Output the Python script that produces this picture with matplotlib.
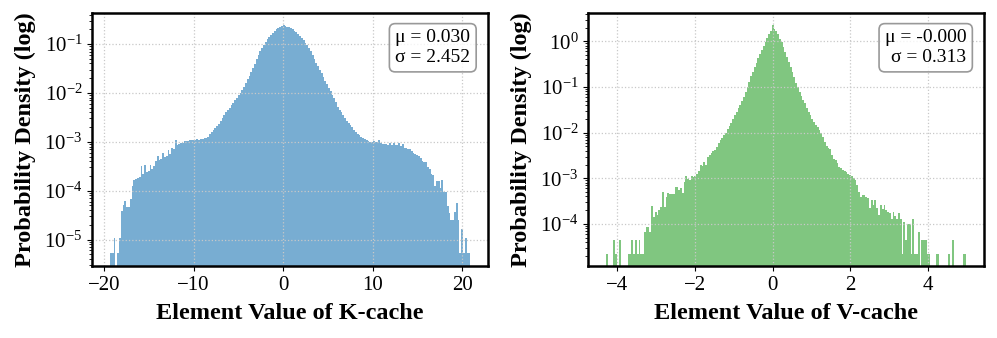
import numpy as np
import matplotlib
matplotlib.use('agg')
import matplotlib.pyplot as plt

# log10 of the probability density per bin (nan = empty bin), 200 bins each
k_range = (-19.34, 20.86)
k_log_density = [
    -5.27, -5.27, -4.97, np.nan, -5.27, -4.97, -4.42, -4.29, -4.22, -4.33,
    -4.33, -4.16, -3.90, -3.78, -3.76, -3.74, -3.72, -3.50, -3.66, -3.47,
    -3.62, -3.60, -3.48, -3.55, -3.50, -3.40, -3.29, -3.38, -3.36, -3.23,
    -3.31, -3.29, -3.17, -3.24, -3.13, -3.14, -2.96, -3.06, -3.04, -3.03,
    -3.02, -2.99, -2.99, -2.98, -2.97, -2.96, -2.97, -2.96, -2.95, -2.96,
    -2.95, -2.94, -2.93, -2.92, -2.91, -2.84, -2.80, -2.76, -2.72, -2.68,
    -2.64, -2.58, -2.52, -2.46, -2.40, -2.35, -2.30, -2.25, -2.20, -2.15,
    -2.10, -2.05, -2.00, -1.94, -1.88, -1.80, -1.72, -1.65, -1.58, -1.49,
    -1.40, -1.31, -1.22, -1.15, -1.08, -1.02, -0.96, -0.90, -0.85, -0.81,
    -0.77, -0.73, -0.70, -0.67, -0.65, -0.63, -0.61, -0.63, -0.65, -0.66,
    -0.68, -0.70, -0.73, -0.76, -0.80, -0.84, -0.88, -0.92, -0.97, -1.02,
    -1.08, -1.15, -1.22, -1.30, -1.38, -1.45, -1.53, -1.60, -1.67, -1.75,
    -1.82, -1.90, -1.97, -2.04, -2.10, -2.19, -2.28, -2.34, -2.40, -2.46,
    -2.52, -2.57, -2.62, -2.66, -2.70, -2.76, -2.80, -2.85, -2.87, -2.90,
    -2.93, -2.95, -2.97, -2.99, -3.00, -3.00, -2.98, -3.01, -3.00, -2.96,
    -3.02, -3.04, -3.05, -3.04, -3.06, -3.03, -3.06, -3.03, -3.07, -3.06,
    -3.03, -3.08, -3.05, -3.12, -3.12, -3.14, -3.15, -3.18, -3.22, -3.25,
    -3.27, -3.30, -3.33, -3.40, -3.42, -3.42, -3.52, -3.55, -3.65, -3.68,
    -3.90, -3.80, -3.80, -3.95, -3.78, -4.03, -4.03, -4.32, -4.45, -4.60,
    -4.60, -4.43, -4.26, -4.60, -5.27, -4.79, -5.27, -4.97, -5.27, -5.27,
]
k_stats = ('0.030', '2.452')

v_range = (-4.278, 4.985)
v_log_density = [
    -4.65, np.nan, np.nan, np.nan, -4.34, -4.65, np.nan, -4.34, np.nan, np.nan,
    np.nan, np.nan, -4.65, -4.65, -4.34, -4.65, -4.34, -4.65, -4.34, -4.65,
    -4.65, -4.17, -4.06, -4.06, -4.17, -3.61, -3.84, -3.73, -3.80, -3.70,
    -3.63, -3.30, -3.63, -3.40, -3.33, -3.34, -3.34, -3.34, -3.19, -3.19,
    -3.25, -3.22, -3.32, -3.08, -2.95, -3.02, -3.03, -2.95, -2.98, -2.96,
    -2.91, -2.85, -2.71, -2.73, -2.64, -2.71, -2.53, -2.50, -2.44, -2.41,
    -2.37, -2.32, -2.23, -2.17, -2.12, -2.06, -2.00, -1.93, -1.85, -1.78,
    -1.70, -1.62, -1.55, -1.47, -1.39, -1.31, -1.22, -1.10, -0.99, -0.88,
    -0.77, -0.67, -0.57, -0.47, -0.37, -0.28, -0.19, -0.10, -0.01, 0.07,
    0.15, 0.23, 0.36, 0.28, 0.22, 0.17, 0.06, -0.01, -0.12, -0.23,
    -0.34, -0.45, -0.56, -0.67, -0.78, -0.91, -1.01, -1.11, -1.20, -1.29,
    -1.36, -1.47, -1.55, -1.62, -1.70, -1.77, -1.84, -1.88, -1.95, -2.00,
    -2.09, -2.20, -2.30, -2.33, -2.36, -2.50, -2.57, -2.60, -2.66, -2.75,
    -2.78, -2.82, -2.85, -2.86, -2.90, -2.93, -2.96, -3.00, -3.04, -3.15,
    -3.30, -3.41, -3.36, -3.37, -3.40, -3.44, -3.64, -3.47, -3.59, -3.47,
    -3.65, -3.81, -3.59, -3.68, -3.59, -3.70, -3.74, -3.77, -3.88, -3.74,
    -3.82, -3.88, -3.77, -3.88, -4.65, -3.95, -4.35, -4.00, -4.00, -4.65,
    -3.88, -4.65, -4.65, -4.17, np.nan, -4.35, -4.35, -4.35, -4.65, -4.65,
    np.nan, np.nan, np.nan, -4.65, -4.65, np.nan, np.nan, np.nan, np.nan, np.nan,
    -4.65, np.nan, -4.35, np.nan, np.nan, np.nan, np.nan, np.nan, -4.65, -4.65,
]
v_stats = ('-0.000', '0.313')

plt.rcParams['font.family'] = ['Liberation Serif', 'DejaVu Serif']
plt.rcParams['mathtext.fontset'] = 'stix'

fig, axes = plt.subplots(1, 2, figsize=(9.97, 3.38), dpi=100)
fig.subplots_adjust(left=0.0923, right=0.9873, top=0.9615, bottom=0.213, wspace=0.2525)

panels = [
    (axes[0], k_range, k_log_density, k_stats, 'C0', 'Element Value of K-cache', (10**-5.54, 10**-0.367)),
    (axes[1], v_range, v_log_density, v_stats, 'C2', 'Element Value of V-cache', (10**-4.92, 10**0.62)),
]

for ax, rng, logd, stats, color, xlabel, ylim in panels:
    logd = np.array(logd, dtype=float)
    edges = np.linspace(rng[0], rng[1], len(logd) + 1)
    centers = (edges[:-1] + edges[1:]) / 2
    dens = np.where(np.isnan(logd), 0.0, 10 ** np.nan_to_num(logd))
    ax.hist(centers, bins=edges, weights=dens, color=color, alpha=0.6, log=True)
    ax.set_ylim(*ylim)
    ax.grid(True, linestyle=':', color='#c8c8c8', linewidth=0.9)
    for sp in ax.spines.values():
        sp.set_linewidth(1.8)
    ax.tick_params(labelsize=15)
    ax.set_xlabel(xlabel, fontsize=17.5, fontweight='bold', labelpad=6)
    ax.set_ylabel('Probability Density (log)', fontsize=17.5, fontweight='bold', labelpad=6)
    ax.text(0.955, 0.935, f'μ = {stats[0]}\nσ = {stats[1]}', transform=ax.transAxes,
            ha='right', va='top', fontsize=14,
            bbox=dict(boxstyle='round,pad=0.3', facecolor='white', edgecolor='gray',
                      alpha=0.8, linewidth=1.2))

plt.savefig('out.png')
